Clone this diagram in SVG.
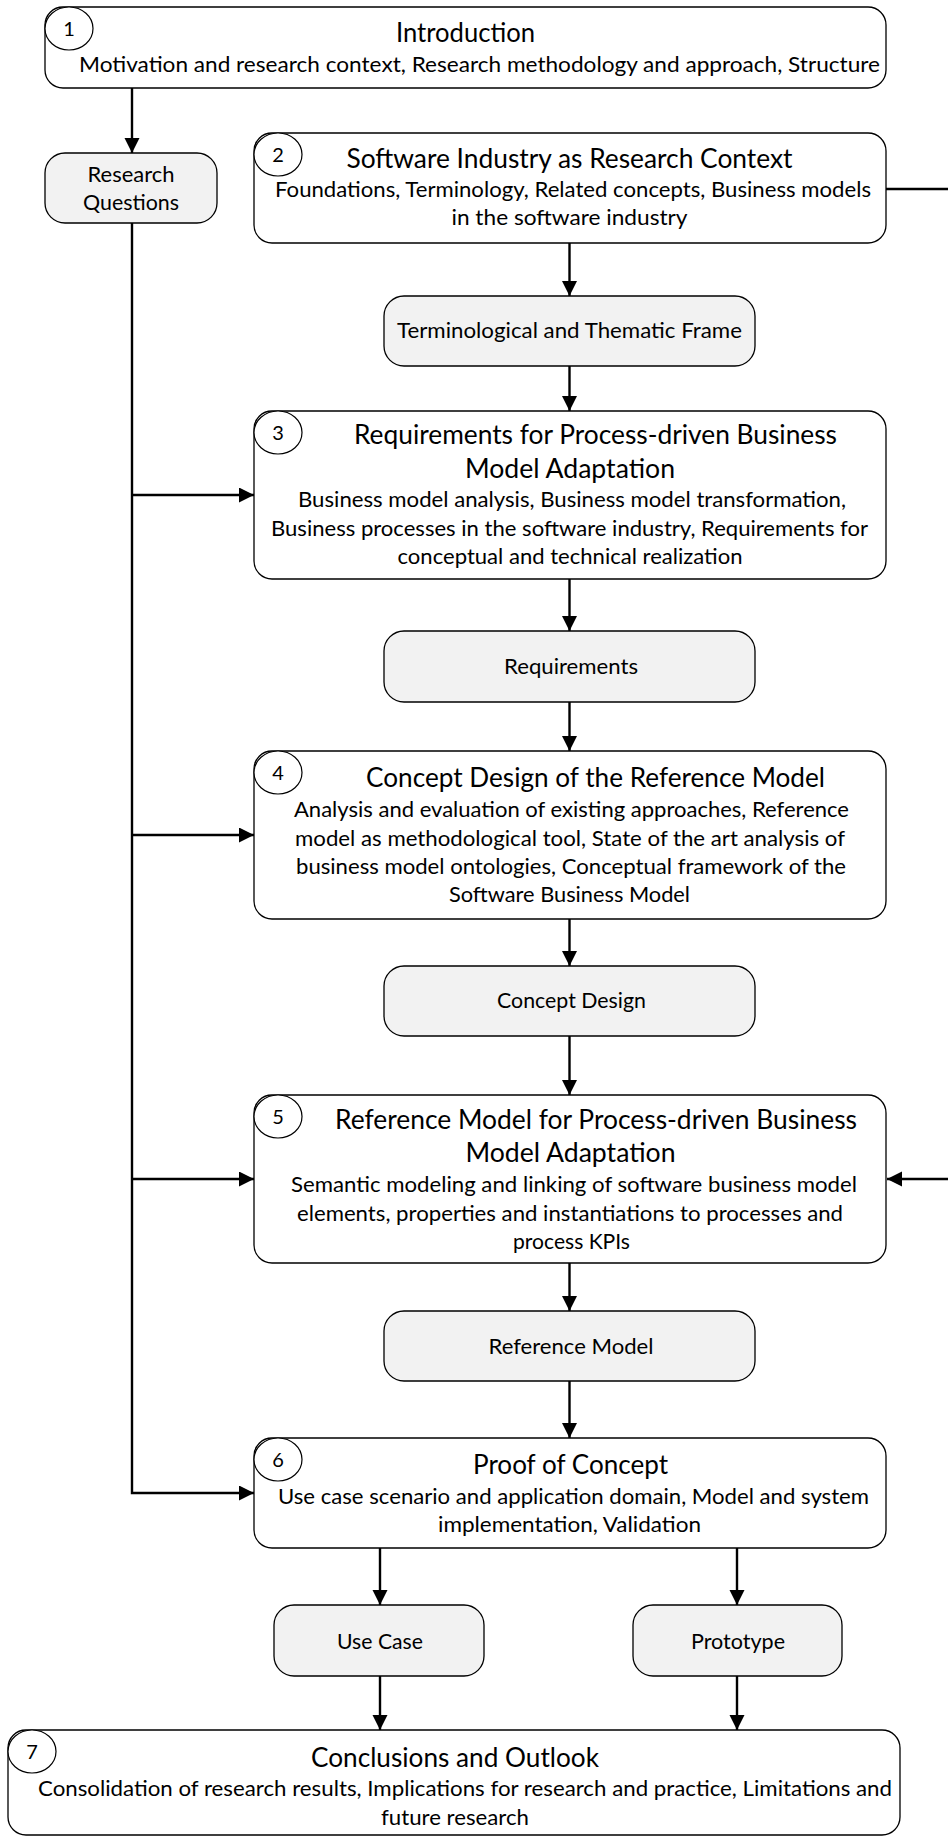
<svg xmlns="http://www.w3.org/2000/svg" width="948" height="1837" viewBox="0 0 948 1837">
<defs>
<marker id="ah" markerUnits="userSpaceOnUse" markerWidth="16" markerHeight="16" refX="15" refY="7.5" orient="auto"><path d="M0,0 L15,7.5 L0,15 Z" fill="#000"/></marker>
<style>
.box{fill:#fff;stroke:#000;stroke-width:1.3}
.grey{fill:#f2f2f2;stroke:#000;stroke-width:1.3}
.num{fill:#fff;stroke:#000;stroke-width:1.2}
text{font-family:Lato,"Open Sans",sans-serif;fill:#000;text-anchor:middle}
.t{font-size:26px}
.b{font-size:22px}
.n{font-size:20px}
.c{fill:none;stroke:#000;stroke-width:2.4}
.a{marker-end:url(#ah)}
</style>
</defs>
<rect width="948" height="1837" fill="#fff"/>
<g id="connectors">
<path class="c a" d="M132 88 V153"/>
<path class="c a" d="M132 223 V1493 H254"/>
<path class="c a" d="M132 495 H254"/>
<path class="c a" d="M132 835 H254"/>
<path class="c a" d="M132 1179 H254"/>
<path class="c a" d="M569.5 243 V296"/>
<path class="c a" d="M569.5 366 V411"/>
<path class="c a" d="M569.5 579 V631"/>
<path class="c a" d="M569.5 702 V751"/>
<path class="c a" d="M569.5 919 V966"/>
<path class="c a" d="M569.5 1036 V1095"/>
<path class="c a" d="M569.5 1263 V1311"/>
<path class="c a" d="M569.5 1381 V1438"/>
<path class="c a" d="M380 1548 V1605"/>
<path class="c a" d="M737 1548 V1605"/>
<path class="c a" d="M380 1676 V1730"/>
<path class="c a" d="M737 1676 V1730"/>
<path class="c a" d="M886 189 H952 V1179 H887"/>
</g>
<g id="n1">
<rect class="box" x="45" y="7" width="841" height="81" rx="18"/>
<ellipse class="num" cx="69" cy="28.5" rx="24" ry="21.5"/>
<text class="n" x="69" y="36">1</text>
<text class="t" x="465.5" y="42" textLength="139" lengthAdjust="spacingAndGlyphs">Introduction</text>
<text class="b" x="479.5" y="72" textLength="801" lengthAdjust="spacingAndGlyphs">Motivation and research context, Research methodology and approach, Structure</text>
</g>
<g id="rq">
<rect class="grey" x="45" y="153" width="172" height="70" rx="20"/>
<text class="b" x="131" y="182" textLength="87" lengthAdjust="spacingAndGlyphs">Research</text>
<text class="b" x="131" y="210" textLength="96" lengthAdjust="spacingAndGlyphs">Questions</text>
</g>
<g id="n2">
<rect class="box" x="254" y="133" width="632" height="110" rx="18"/>
<ellipse class="num" cx="278" cy="154.5" rx="24" ry="21.5"/>
<text class="n" x="278" y="162">2</text>
<text class="t" x="569.5" y="168" textLength="446" lengthAdjust="spacingAndGlyphs">Software Industry as Research Context</text>
<text class="b" x="573" y="197" textLength="596" lengthAdjust="spacingAndGlyphs">Foundations, Terminology, Related concepts, Business models</text>
<text class="b" x="569.5" y="225" textLength="236" lengthAdjust="spacingAndGlyphs">in the software industry</text>
</g>
<g id="frame">
<rect class="grey" x="384" y="296" width="371" height="70" rx="20"/>
<text class="b" x="569.5" y="338" textLength="345" lengthAdjust="spacingAndGlyphs">Terminological and Thematic Frame</text>
</g>
<g id="n3">
<rect class="box" x="254" y="411" width="632" height="168" rx="18"/>
<ellipse class="num" cx="278" cy="432.5" rx="24" ry="21.5"/>
<text class="n" x="278" y="440">3</text>
<text class="t" x="595.5" y="444" textLength="483" lengthAdjust="spacingAndGlyphs">Requirements for Process-driven Business</text>
<text class="t" x="570" y="478" textLength="210" lengthAdjust="spacingAndGlyphs">Model Adaptation</text>
<text class="b" x="572" y="507" textLength="548" lengthAdjust="spacingAndGlyphs">Business model analysis, Business model transformation,</text>
<text class="b" x="569.5" y="536" textLength="597" lengthAdjust="spacingAndGlyphs">Business processes in the software industry, Requirements for</text>
<text class="b" x="570" y="564" textLength="345" lengthAdjust="spacingAndGlyphs">conceptual and technical realization</text>
</g>
<g id="req">
<rect class="grey" x="384" y="631" width="371" height="71" rx="20"/>
<text class="b" x="571" y="674" textLength="134" lengthAdjust="spacingAndGlyphs">Requirements</text>
</g>
<g id="n4">
<rect class="box" x="254" y="751" width="632" height="168" rx="18"/>
<ellipse class="num" cx="278" cy="772.5" rx="24" ry="21.5"/>
<text class="n" x="278" y="780">4</text>
<text class="t" x="595.5" y="787" textLength="459" lengthAdjust="spacingAndGlyphs">Concept Design of the Reference Model</text>
<text class="b" x="571.5" y="817" textLength="555" lengthAdjust="spacingAndGlyphs">Analysis and evaluation of existing approaches, Reference</text>
<text class="b" x="570" y="846" textLength="550" lengthAdjust="spacingAndGlyphs">model as methodological tool, State of the art analysis of</text>
<text class="b" x="571" y="874" textLength="550" lengthAdjust="spacingAndGlyphs">business model ontologies, Conceptual framework of the</text>
<text class="b" x="569.5" y="902" textLength="241" lengthAdjust="spacingAndGlyphs">Software Business Model</text>
</g>
<g id="cd">
<rect class="grey" x="384" y="966" width="371" height="70" rx="20"/>
<text class="b" x="571.5" y="1008" textLength="149" lengthAdjust="spacingAndGlyphs">Concept Design</text>
</g>
<g id="n5">
<rect class="box" x="254" y="1095" width="632" height="168" rx="18"/>
<ellipse class="num" cx="278" cy="1116.5" rx="24" ry="21.5"/>
<text class="n" x="278" y="1124">5</text>
<text class="t" x="596" y="1129" textLength="522" lengthAdjust="spacingAndGlyphs">Reference Model for Process-driven Business</text>
<text class="t" x="570.5" y="1162" textLength="210" lengthAdjust="spacingAndGlyphs">Model Adaptation</text>
<text class="b" x="574" y="1192" textLength="566" lengthAdjust="spacingAndGlyphs">Semantic modeling and linking of software business model</text>
<text class="b" x="570" y="1221" textLength="546" lengthAdjust="spacingAndGlyphs">elements, properties and instantiations to processes and</text>
<text class="b" x="571.5" y="1249" textLength="117" lengthAdjust="spacingAndGlyphs">process KPIs</text>
</g>
<g id="rm">
<rect class="grey" x="384" y="1311" width="371" height="70" rx="20"/>
<text class="b" x="571" y="1354" textLength="165" lengthAdjust="spacingAndGlyphs">Reference Model</text>
</g>
<g id="n6">
<rect class="box" x="254" y="1438" width="632" height="110" rx="18"/>
<ellipse class="num" cx="278" cy="1459.5" rx="24" ry="21.5"/>
<text class="n" x="278" y="1467">6</text>
<text class="t" x="570.5" y="1474" textLength="195" lengthAdjust="spacingAndGlyphs">Proof of Concept</text>
<text class="b" x="573.5" y="1504" textLength="591" lengthAdjust="spacingAndGlyphs">Use case scenario and application domain, Model and system</text>
<text class="b" x="569.5" y="1532" textLength="263" lengthAdjust="spacingAndGlyphs">implementation, Validation</text>
</g>
<g id="uc">
<rect class="grey" x="274" y="1605" width="210" height="71" rx="20"/>
<text class="b" x="380" y="1649" textLength="86" lengthAdjust="spacingAndGlyphs">Use Case</text>
</g>
<g id="proto">
<rect class="grey" x="633" y="1605" width="209" height="71" rx="20"/>
<text class="b" x="738" y="1649" textLength="94" lengthAdjust="spacingAndGlyphs">Prototype</text>
</g>
<g id="n7">
<rect class="box" x="8" y="1730" width="892" height="105" rx="18"/>
<ellipse class="num" cx="32" cy="1751.5" rx="24" ry="21.5"/>
<text class="n" x="32" y="1759">7</text>
<text class="t" x="455" y="1767" textLength="288" lengthAdjust="spacingAndGlyphs">Conclusions and Outlook</text>
<text class="b" x="465" y="1796" textLength="854" lengthAdjust="spacingAndGlyphs">Consolidation of research results, Implications for research and practice, Limitations and</text>
<text class="b" x="455" y="1825" textLength="148" lengthAdjust="spacingAndGlyphs">future research</text>
</g>
</svg>
